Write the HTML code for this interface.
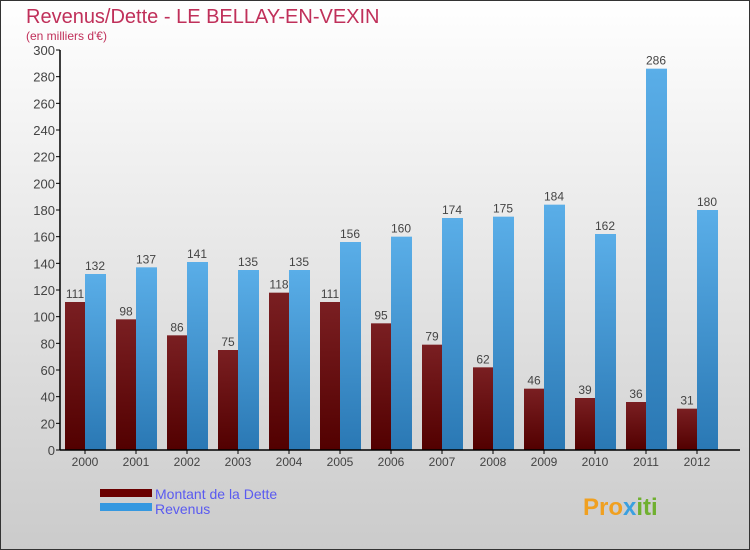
<!DOCTYPE html>
<html><head><meta charset="utf-8"><style>
body{margin:0}
#c{position:relative;width:750px;height:550px;overflow:hidden}
text{font-family:"Liberation Sans",sans-serif}
</style></head><body>
<div id="c">
<svg id="s" width="750" height="550" xmlns="http://www.w3.org/2000/svg">
<defs>
<linearGradient id="bg" x1="0" y1="0" x2="0" y2="1"><stop offset="0" stop-color="#ffffff"/><stop offset="1" stop-color="#cbcbcb"/></linearGradient>
<linearGradient id="gd" x1="0" y1="0" x2="0" y2="1"><stop offset="0" stop-color="#7a1f22"/><stop offset="1" stop-color="#520000"/></linearGradient>
<linearGradient id="gr" x1="0" y1="0" x2="0" y2="1"><stop offset="0" stop-color="#5aaee8"/><stop offset="1" stop-color="#2a78b4"/></linearGradient>
</defs>
<rect x="0.5" y="0.5" width="749" height="549" fill="url(#bg)" stroke="#333"/>
<text x="26" y="23" font-size="20" fill="#c0305a">Revenus/Dette - LE BELLAY-EN-VEXIN</text>
<text x="26" y="40" font-size="12" fill="#c0305a">(en milliers d'€)</text>
<g id="plot"></g>
<rect x="100" y="489" width="52" height="8" fill="#6a0000"/>
<text x="155" y="499" font-size="14" fill="#5a5af0">Montant de la Dette</text>
<rect x="100" y="503" width="52" height="8" fill="#3598e0"/>
<text x="155" y="514" font-size="14" fill="#5a5af0">Revenus</text>
<text x="583" y="515" font-size="24" font-weight="bold" fill="#f0a020">Pro<tspan fill="#3aa0e0">x</tspan><tspan fill="#70b030">iti</tspan></text>
</svg>
</div>
<script>
const years=["2000","2001","2002","2003","2004","2005","2006","2007","2008","2009","2010","2011","2012"];
const dette=[111,98,86,75,118,111,95,79,62,46,39,36,31];
const revenus=[132,137,141,135,135,156,160,174,175,184,162,286,180];
const yTicks=[0,20,40,60,80,100,120,140,160,180,200,220,240,260,280,300];
const NS="http://www.w3.org/2000/svg";
const g=document.getElementById('plot');
const y=v=>450-v*400/300;
const xc=i=>85+51*i;
function mk(t,a,txt){const e=document.createElementNS(NS,t);for(const k in a)e.setAttribute(k,a[k]);if(txt!==undefined)e.textContent=txt;g.appendChild(e);return e;}
yTicks.forEach(t=>{
 let l=mk('line',{x1:56,x2:60,y1:y(t),y2:y(t),stroke:'#000'});
 
 
 let tx=mk('text',{x:55,y:y(t)+5,'font-size':13,'text-anchor':'end',fill:'#444'},t);
 
 
});
years.forEach((yr,i)=>{
 let c=xc(i);
 let b1=mk('rect',{x:c-20,y:y(dette[i]),width:20,height:450-y(dette[i]),fill:'url(#gd)'});
 
 
 let b2=mk('rect',{x:c,y:y(revenus[i]),width:21,height:450-y(revenus[i]),fill:'url(#gr)'});
 
 
 let v1=mk('text',{x:c-10,y:y(dette[i])-4,'font-size':12,'text-anchor':'middle',fill:'#444'},dette[i]);
 
 
 let v2=mk('text',{x:c+10,y:y(revenus[i])-4,'font-size':12,'text-anchor':'middle',fill:'#444'},revenus[i]);
 
 
 let tk=mk('line',{x1:c,x2:c,y1:450,y2:454,stroke:'#000'});
 
 
 let xl=mk('text',{x:c,y:466,'font-size':12,'text-anchor':'middle',fill:'#444'},yr);
 
 
});
let ya=mk('line',{x1:60,x2:60,y1:50,y2:450,stroke:'#000','stroke-width':1.5});


let xa=mk('line',{x1:60,x2:740,y1:450,y2:450,stroke:'#000','stroke-width':1.5});


</script>
</body></html>
